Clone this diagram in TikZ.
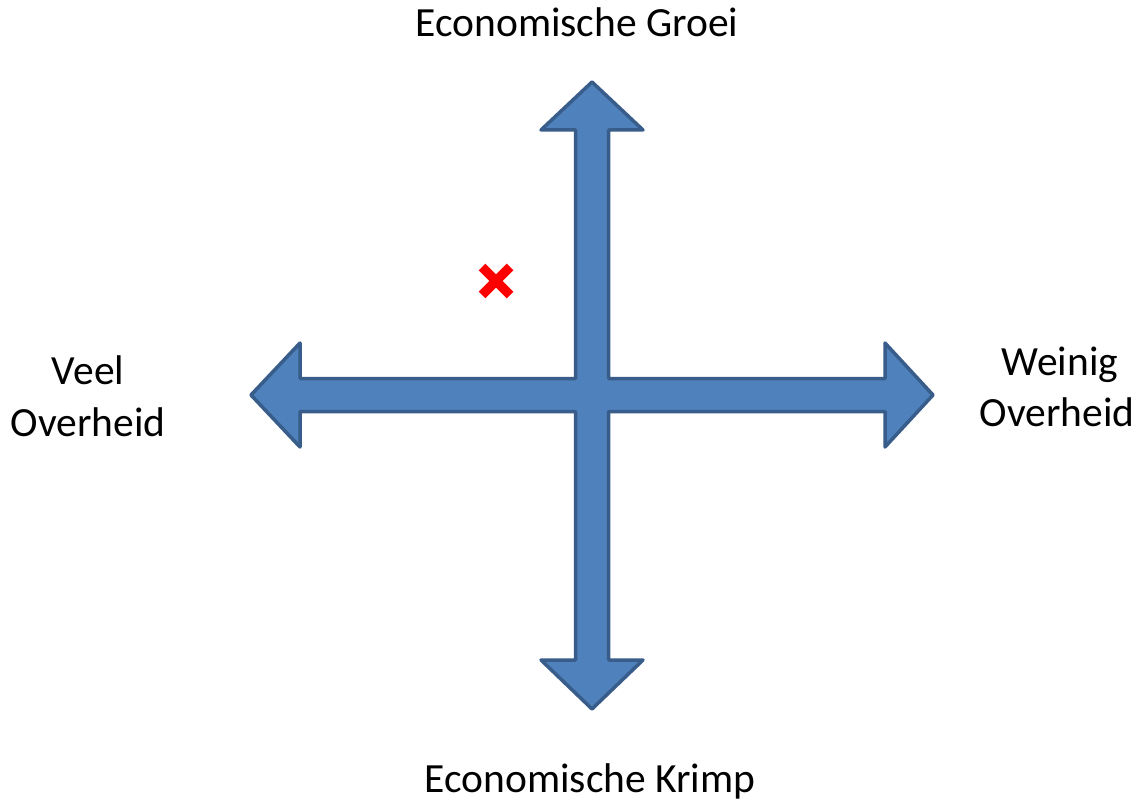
\documentclass[tikz,border=0pt]{standalone}
\usepackage{fontspec}
\setmainfont{Carlito}
\usetikzlibrary{calc}
\definecolor{arrowfill}{HTML}{4F81BD}
\definecolor{arrowline}{HTML}{385D8A}
\definecolor{markred}{HTML}{FF0000}
\tikzset{
  lbl/.style={anchor=base, inner sep=0pt, font=\fontsize{41.5}{48}\selectfont},
  crossarrow/.style={fill=arrowfill, draw=arrowline, line width=3.5pt, line join=round},
  xmark/.style={draw=markred, line width=9.5pt}
}
\begin{document}
\begin{tikzpicture}[x=1pt,y=-1pt]
\useasboundingbox (0,0) rectangle (1144,805);
\fill[white] (0,0) rectangle (1144,805);
% four-way arrow
\draw[crossarrow] (592,82) -- (643,130) -- (608.5,130) -- (608.5,378.5) -- (885,378.5) -- (885,343) -- (933,395) -- (885,447) -- (885,411.5) -- (608.5,411.5) -- (608.5,660) -- (643,660) -- (592,709) -- (541,660) -- (575.5,660) -- (575.5,411.5) -- (300,411.5) -- (300,447) -- (251,395) -- (300,343) -- (300,378.5) -- (575.5,378.5) -- (575.5,130) -- (541,130) -- cycle;
% red cross
\coordinate (xc) at (496,281);
\draw[xmark] ($(xc)+(-14,-14)$) -- ($(xc)+(14,14)$);
\draw[xmark] ($(xc)+(-14,14)$) -- ($(xc)+(14,-14)$);
% labels
\node[lbl] (groei) at (577,37) {Economische Groei};
\node[lbl] (krimp) at (590,792) {Economische Krimp};
\node[lbl] (veel1) at (88,384) {Veel};
\node[lbl] (veel2) at (88,436) {Overheid};
\node[lbl] (wein1) at (1060,375) {Weinig};
\node[lbl] (wein2) at (1057,426) {Overheid};
\end{tikzpicture}
\end{document}
